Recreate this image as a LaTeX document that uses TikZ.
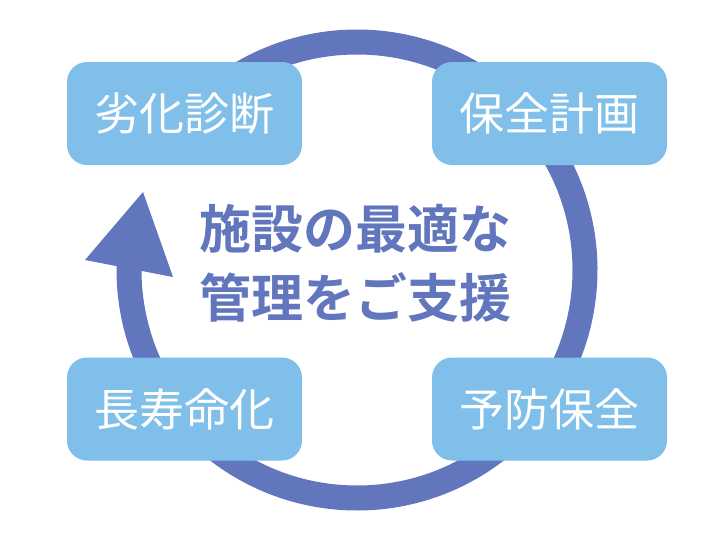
\documentclass[tikz,border=0pt]{standalone}
\usepackage{fontspec}
\usepackage{xcolor}
\usepackage{tikz}
\newfontfamily\jpfont{Noto Sans CJK JP}
\newfontfamily\jpbold{Noto Sans CJK JP Bold}
\definecolor{ringBlue}{HTML}{6176BD}
\definecolor{boxBlue}{HTML}{80BFEA}
\tikzset{
    stageBox/.style={fill=boxBlue, draw=none, rounded corners=20pt,
                     minimum width=235pt, minimum height=103pt, inner sep=0pt,
                     text=white, font=\jpfont\fontsize{45pt}{50pt}\selectfont},
    cycleRing/.style={draw=ringBlue, line width=25pt},
    ringHead/.style={fill=ringBlue, draw=none},
    hubText/.style={text=ringBlue, align=center,
                    font=\jpbold\fontsize{52pt}{69pt}\selectfont},
}

\begin{document}
\begin{tikzpicture}[x=1pt, y=1pt]
\useasboundingbox (0,0) rectangle (728,-546);

% =======================  cycle ring  =======================
\coordinate (ringC) at (357,-270);
\draw[cycleRing] ([shift={(130:228)}]ringC)
     arc[start angle=130, end angle=-182, radius=228];
% arrow head pointing up on the left
\fill[ringHead] ([shift={(-272,10)}]ringC) -- ([shift={(-214,78)}]ringC)
     -- ([shift={(-184,-7)}]ringC) -- cycle;

% =======================  stage boxes  =======================
\node[stageBox] (diagBox) at (184.5,-113.5) {劣化診断};
\node[stageBox] (planBox) at (549.5,-113.5) {保全計画};
\node[stageBox] (prevBox) at (549.5,-409)   {予防保全};
\node[stageBox] (lifeBox) at (184.5,-409)   {長寿命化};

% centre message
\node[hubText] (hubMsg) at (355,-263) {施設の最適な\\管理をご支援};

\end{tikzpicture}
\end{document}
